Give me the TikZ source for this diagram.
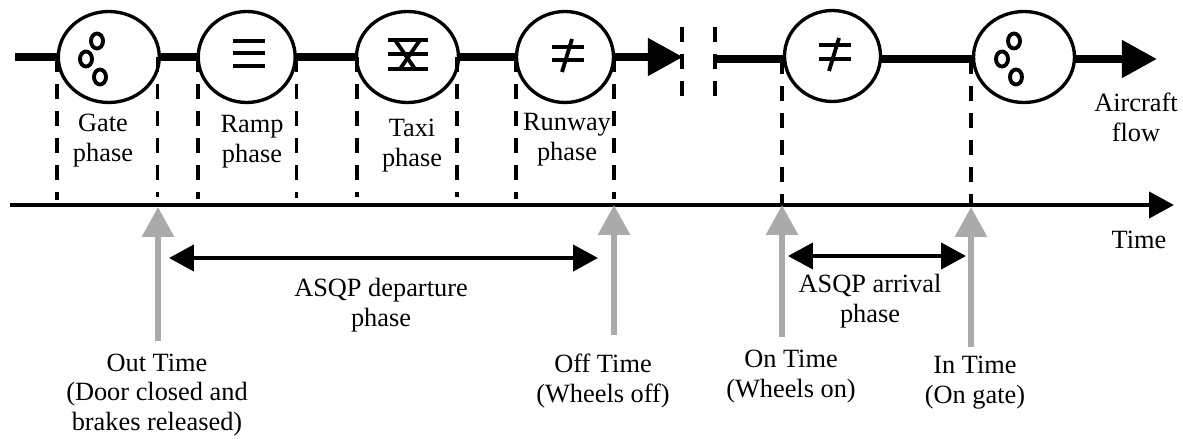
\documentclass[tikz,border=0pt]{standalone}
\usepackage{fontspec}
\setmainfont{Liberation Serif}
\usetikzlibrary{arrows.meta,shapes.geometric}
\definecolor{markgray}{RGB}{170,170,170}
\begin{document}
\begin{tikzpicture}[x=0.02cm,y=0.02cm]
		\tikzstyle{every node}+=[inner sep=0pt,font=\fontsize{15}{17}\selectfont]
		\tikzstyle{station}=[draw=black,ellipse,line width=1.9pt,minimum height=1.82cm,outer sep=0pt]
		\tikzstyle{label}=[align=center,anchor=center]
		\tikzstyle{flow}=[black,line width=4.5pt]
		\tikzstyle{flowhead}=[flow,-{Triangle[length=20pt,width=20.5pt]}]
		\tikzstyle{guide}=[black,line width=2.2pt,dash pattern=on 8.5pt off 6.9pt]
		\tikzstyle{timeline}=[black,line width=2.3pt,-{Triangle[length=14.2pt,width=14.8pt]}]
		\tikzstyle{event}=[markgray,line width=3.4pt,-{Triangle[length=17pt,width=17.6pt]}]
		\tikzstyle{span}=[black,line width=2.3pt,{Triangle[length=14.2pt,width=14.8pt]}-{Triangle[length=14.2pt,width=14.8pt]}]
		\tikzstyle{glyph}=[black,line width=2.2pt]
		\useasboundingbox (0,0) rectangle (1183,-439);
		\node [station,minimum width=2.02cm] (gate) at (108.8,-57) {};
		\node [station,minimum width=1.94cm] (ramp) at (246.7,-57) {};
		\node [station,minimum width=2.04cm] (taxi) at (407.5,-57) {};
		\node [station,minimum width=1.94cm] (runway) at (565,-57) {};
		\node [station,minimum width=1.92cm] (landing) at (832.5,-56) {};
		\node [station,minimum width=2.02cm] (stand) at (1024,-57) {};
		\coordinate (flowstart) at (15,-57);
		\coordinate (flowbreak) at (683,-57);
		\coordinate (flowresume) at (715,-59);
		\coordinate (flowend) at (1157,-59);
		\draw [flow] (flowstart) -- (gate);
		\draw [flow] (gate) -- (ramp);
		\draw [flow] (ramp) -- (taxi);
		\draw [flow] (taxi) -- (runway);
		\draw [flowhead] (runway) -- (flowbreak);
		\draw [flow] (flowresume) -- (flowresume -| landing.west);
		\draw [flow] (landing.east |- flowresume) -- (stand.west |- flowresume);
		\draw [flowhead] (stand.east |- flowend) -- (flowend);
		\coordinate (breakAtop) at (682,-27);
		\coordinate (breakAend) at (682,-96);
		\coordinate (breakBtop) at (715,-27);
		\coordinate (breakBend) at (715,-96);
		\draw [guide] (breakAtop) -- (breakAend);
		\draw [guide] (breakBtop) -- (breakBend);
		\coordinate (timestart) at (10,-205);
		\coordinate (timeend) at (1174,-205);
		\draw [timeline] (timestart) -- (timeend);
		\coordinate (gateL) at (57,-200);
		\coordinate (gateR) at (157.5,-197);
		\coordinate (rampL) at (198,-199);
		\coordinate (rampR) at (296.5,-198);
		\coordinate (taxiL) at (357,-197);
		\coordinate (taxiR) at (457,-197);
		\coordinate (runwayL) at (516,-199);
		\coordinate (runwayR) at (614,-199);
		\coordinate (landingL) at (782,-205);
		\coordinate (standL) at (971,-205);
		\draw [guide] (gateL |- gate) -- (gateL);
		\draw [guide] (gateR |- gate) -- (gateR);
		\draw [guide] (rampL |- ramp) -- (rampL);
		\draw [guide] (rampR |- ramp) -- (rampR);
		\draw [guide] (taxiL |- taxi) -- (taxiL);
		\draw [guide] (taxiR |- taxi) -- (taxiR);
		\draw [guide] (runwayL |- runway) -- (runwayL);
		\draw [guide] (runwayR |- runway) -- (runwayR);
		\draw [guide] (landingL |- flowresume) -- (landingL);
		\draw [guide] (standL |- flowresume) -- (standL);
		\coordinate (outtop) at (158,-207);
		\coordinate (outfoot) at (158,-341);
		\coordinate (offtop) at (614,-205);
		\coordinate (offfoot) at (614,-335);
		\coordinate (ontop) at (782,-205);
		\coordinate (onfoot) at (782,-337);
		\coordinate (intop) at (971,-207);
		\coordinate (infoot) at (971,-347);
		\draw [event] (outfoot) -- (outtop);
		\draw [event] (offfoot) -- (offtop);
		\draw [event] (onfoot) -- (ontop);
		\draw [event] (infoot) -- (intop);
		\coordinate (departL) at (169,-258);
		\coordinate (departR) at (598,-258);
		\coordinate (arriveL) at (788,-256);
		\coordinate (arriveR) at (966,-256);
		\draw [span] (departL) -- (departR);
		\draw [span] (arriveL) -- (arriveR);
		\draw [glyph] (97,-41) ellipse [x radius=6,y radius=7.5];
		\draw [glyph] (86,-59) ellipse [x radius=6,y radius=7.5];
		\draw [glyph] (100,-77) ellipse [x radius=6,y radius=7.5];
		\draw [glyph] (233,-41) -- (265,-41);
		\draw [glyph] (233,-53) -- (265,-53);
		\draw [glyph] (233,-66) -- (265,-66);
		\draw [glyph] (388,-40) -- (428,-40);
		\draw [glyph] (388,-54) -- (428,-54);
		\draw [glyph] (388,-69) -- (428,-69);
		\draw [glyph] (395,-40) -- (415,-69);
		\draw [glyph] (420,-40) -- (400,-69);
		\draw [glyph] (552,-47) -- (584,-47);
		\draw [glyph] (552,-60) -- (584,-60);
		\draw [glyph] (572,-39) -- (562,-72);
		\draw [glyph] (819,-45) -- (851,-45);
		\draw [glyph] (819,-59) -- (851,-59);
		\draw [glyph] (839,-38) -- (829,-71);
		\draw [glyph] (1014,-41) ellipse [x radius=6,y radius=7.5];
		\draw [glyph] (1002,-59) ellipse [x radius=6,y radius=7.5];
		\draw [glyph] (1016,-77) ellipse [x radius=6,y radius=7.5];
		\node [label] (gatetext) at (103,-141) {Gate\\phase};
		\node [label] (ramptext) at (252,-142) {Ramp\\phase};
		\node [label] (taxitext) at (412,-146) {Taxi\\phase};
		\node [label] (runwaytext) at (567,-140) {Runway\\phase};
		\node [label] (flowtext) at (1136,-117) {Aircraft\\flow};
		\node [label] (timetext) at (1139,-240) {Time};
		\node [label] (departtext) at (381,-305) {ASQP departure\\phase};
		\node [label] (arrivetext) at (870,-301) {ASQP arrival\\phase};
		\node [label] (outtext) at (157,-395) {Out Time\\(Door closed and\\brakes released)};
		\node [label] (offtext) at (603,-381) {Off Time\\(Wheels off)};
		\node [label] (ontext) at (791,-377) {On Time\\(Wheels on)};
		\node [label] (intext) at (975,-383) {In Time\\(On gate)};
\end{tikzpicture}
\end{document}
